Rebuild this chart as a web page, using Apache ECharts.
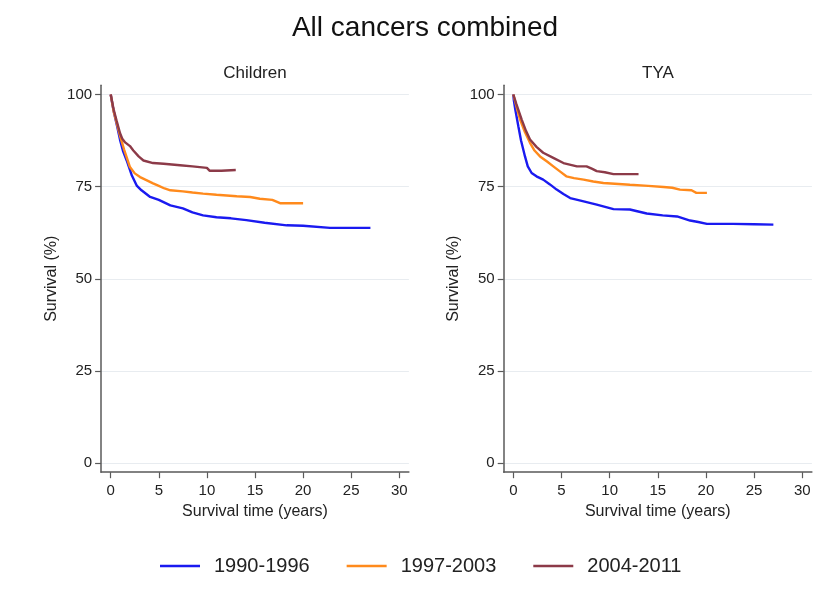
<!DOCTYPE html>
<html><head><meta charset="utf-8">
<script src="https://cdn.jsdelivr.net/npm/echarts@6/dist/echarts.min.js"></script>
<style>html,body{margin:0;padding:0;background:#fff}#c{width:833px;height:596px}</style>
</head><body><div id="c"></div>
<script>
// ---- data ----
const xTicks = [0, 5, 10, 15, 20, 25, 30];
const yTicks = [0, 25, 50, 75, 100];
const periods = ['1990-1996', '1997-2003', '2004-2011'];
const panels = ['Children', 'TYA'];

// Children
const childT1 = [0, 0.3, 0.7, 0.97, 1.3, 1.66, 2.2, 2.7, 3.2, 4.1, 5, 6.2, 7.5, 8.5, 9.6, 11, 12.5, 14.1, 16, 18.3, 20, 22.8, 25, 27];
const childS1 = [100, 95.5, 91, 87.7, 84.5, 82.1, 78, 75.3, 74, 72.2, 71.4, 69.9, 69.1, 68, 67.2, 66.7, 66.4, 65.9, 65.2, 64.5, 64.4, 63.8, 63.8, 63.8];
const childT2 = [0, 0.3, 0.7, 1.0, 1.4, 2.0, 2.5, 3.05, 3.6, 4.4, 5.0, 5.6, 6.2, 7.5, 8.5, 9.6, 11, 13.1, 14.5, 15.5, 16.8, 17.6, 18.5, 20];
const childS2 = [100, 95.5, 91.5, 88.5, 85, 80.3, 78.6, 77.6, 76.9, 75.9, 75.2, 74.5, 74, 73.7, 73.4, 73.1, 72.8, 72.4, 72.2, 71.7, 71.4, 70.5, 70.5, 70.5];
const childT3 = [0, 0.3, 0.6, 0.97, 1.2, 1.5, 2.0, 2.35, 2.9, 3.4, 4.4, 5.5, 7.2, 8.5, 10.0, 10.3, 11.5, 13.0];
const childS3 = [100, 96, 93, 89.5, 88, 87, 86, 84.8, 83.2, 82.1, 81.4, 81.2, 80.8, 80.5, 80.1, 79.3, 79.3, 79.5];

// TYA
const tyaT1 = [0, 0.05, 0.2, 0.52, 0.8, 1.21, 1.5, 1.9, 2.4, 3.1, 3.8, 4.5, 5.2, 5.9, 7.3, 8.66, 10.4, 12.1, 13.85, 15.5, 17.0, 18.35, 19.2, 20.1, 22.8, 25, 27];
const tyaS1 = [100, 98.5, 96, 91.4, 87.5, 83.2, 80.5, 78.7, 77.8, 76.9, 75.6, 74.2, 73, 71.9, 71, 70.1, 68.9, 68.8, 67.7, 67.2, 66.9, 65.8, 65.4, 64.9, 64.9, 64.8, 64.7];
const tyaT2 = [0, 0.3, 0.7, 1.2, 1.73, 2.2, 2.77, 3.5, 4.15, 4.8, 5.5, 6.3, 7.3, 8.3, 9.35, 12.1, 14, 15.6, 16.5, 17.3, 18.5, 19.0, 20.1];
const tyaS2 = [100, 97, 93.2, 89.8, 86.9, 84.8, 83.2, 81.8, 80.5, 79.2, 77.8, 77.3, 76.9, 76.4, 76.0, 75.5, 75.2, 74.9, 74.7, 74.2, 74.0, 73.3, 73.3];
const tyaT3 = [0, 0.3, 0.87, 1.3, 1.73, 2.4, 3.1, 4.15, 5.2, 6.6, 7.6, 8.2, 8.66, 9.5, 10.4, 13.0];
const tyaS3 = [100, 97.5, 93.2, 90.2, 87.8, 85.8, 84.2, 82.8, 81.4, 80.5, 80.5, 79.8, 79.2, 78.9, 78.4, 78.4];

const colors = ['#1a1af0', '#ff8a1c', '#8c3a48'];
const FONT = 'Liberation Sans, Arial, Helvetica, sans-serif';

const zip = (t, s) => t.map((v, i) => [v, s[i]]);
const curves = [
  [zip(childT1, childS1), zip(childT2, childS2), zip(childT3, childS3)],
  [zip(tyaT1, tyaS1), zip(tyaT2, tyaS2), zip(tyaT3, tyaS3)]
];

const grids = [
  {left: 101.1, top: 85.3, width: 307.8, height: 386.9},
  {left: 503.7, top: 85.3, width: 308.2, height: 386.9}
];

const axisColor = '#5a5a5a';
const xAxes = grids.map((g, i) => ({
  type: 'value', gridIndex: i, min: -1, max: 31,
  name: 'Survival time (years)', nameLocation: 'middle', nameGap: 25,
  nameTextStyle: {fontSize: 16, color: '#222', fontFamily: FONT},
  axisLine: {onZero: false, lineStyle: {color: axisColor, width: 1.5}},
  axisTick: {customValues: xTicks, length: 6, lineStyle: {color: axisColor, width: 1.2}},
  axisLabel: {customValues: xTicks, margin: 11, fontSize: 15, color: '#222', fontFamily: FONT},
  splitLine: {show: false}
}));
const yAxes = grids.map((g, i) => ({
  type: 'value', gridIndex: i, min: -2.5, max: 102.5,
  name: 'Survival (%)', nameLocation: 'middle', nameGap: 42,
  nameTextStyle: {fontSize: 16, color: '#222', fontFamily: FONT},
  axisLine: {show: true, onZero: false, lineStyle: {color: axisColor, width: 1.5}},
  axisTick: {show: true, customValues: yTicks, length: 6, lineStyle: {color: axisColor, width: 1.2}},
  axisLabel: {customValues: yTicks, margin: 9, fontSize: 15, color: '#222', fontFamily: FONT},
  splitLine: {show: true, lineStyle: {color: '#e8ecf0', width: 1}}
}));

const series = [];
curves.forEach((panel, pi) => {
  panel.forEach((data, si) => {
    series.push({
      type: 'line', name: periods[si], xAxisIndex: pi, yAxisIndex: pi,
      data: data, showSymbol: false, symbol: 'none', animation: false,
      lineStyle: {color: colors[si], width: 2.4}, itemStyle: {color: colors[si]}
    });
  });
});

const chart = echarts.init(document.getElementById('c'));
chart.setOption({
  backgroundColor: '#fff',
  animation: false,
  grid: grids,
  xAxis: xAxes,
  yAxis: yAxes,
  series: series,
  legend: {
    data: periods, left: 155, top: 551, icon: 'rect', itemWidth: 40, itemHeight: 2.5,
    itemGap: 37,
    textStyle: {fontSize: 20, color: '#222', fontFamily: FONT, padding: [0, 0, 0, 9], lineHeight: 20}
  },
  graphic: [
    {type: 'text', x: 425, y: 28, style: {text: 'All cancers combined', align: 'center', verticalAlign: 'middle', fontSize: 28, fontFamily: FONT, fill: '#111'}},
    {type: 'text', x: 255, y: 73, style: {text: panels[0], align: 'center', verticalAlign: 'middle', fontSize: 17, fontFamily: FONT, fill: '#222'}},
    {type: 'text', x: 658, y: 73, style: {text: panels[1], align: 'center', verticalAlign: 'middle', fontSize: 17, fontFamily: FONT, fill: '#222'}}
  ]
});
</script></body></html>
